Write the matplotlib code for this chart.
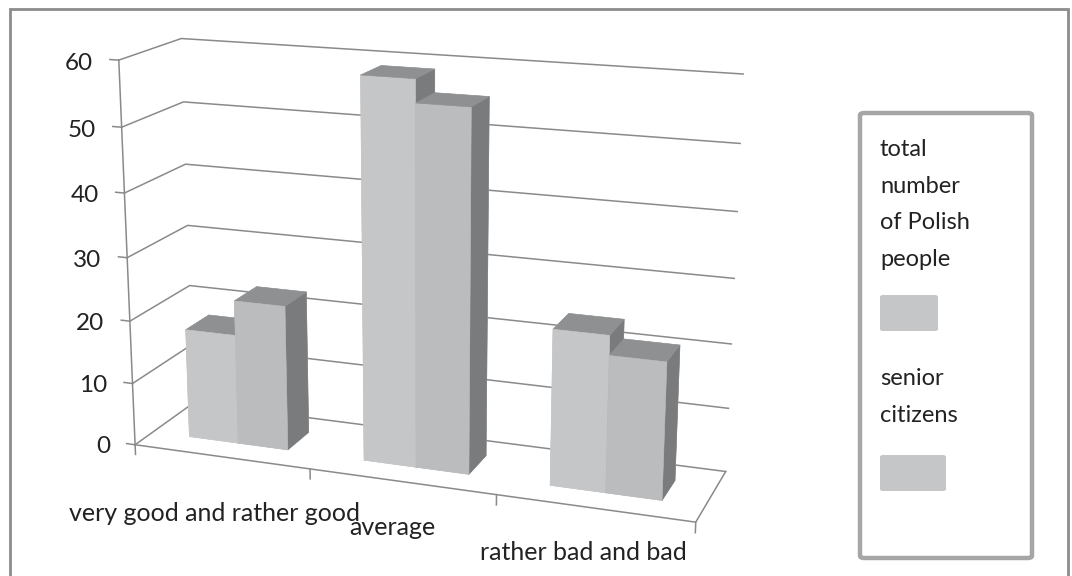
import matplotlib
matplotlib.use("Agg")
import matplotlib.pyplot as plt
from matplotlib.patches import Rectangle, FancyBboxPatch
from mpl_toolkits.mplot3d import proj3d

# survey shares (%) per self-rated category
categories = ["very good and rather good", "average", "rather bad and bad"]
series_labels = ["total\nnumber\nof Polish\npeople", "senior\ncitizens"]
total_pct = [17.5, 59, 24]
senior_pct = [23, 55.5, 21]
value_ticks = [0, 10, 20, 30, 40, 50, 60]

front_colors = ["#C5C6C8", "#BBBCBE"]
top_color = "#8F9092"
side_color = "#7A7B7D"
grid_color = "#8A8A8A"
text_color = "#222222"

plt.rcParams["font.family"] = ["Lato", "DejaVu Sans"]

fig = plt.figure(figsize=(10.72, 5.76), dpi=100)
ax = fig.add_axes([0.0398, -0.129, 0.695, 1.293], projection="3d",
                  computed_zorder=False)
ax.set_axis_off()
ax.patch.set_alpha(0)
ax.view_init(elev=16, azim=-70)
ax.set_proj_type("persp", focal_length=0.5)
ax.set_box_aspect((5, 1.15, 3.41), zoom=0.957)

ncat = len(categories)
zmax = value_ticks[-1]
ax.set_xlim(0, ncat)
ax.set_ylim(0, 1)
ax.set_zlim(0, zmax)


def label_at(x, y, z, s, **kw):
    """Put a flat 2D label at the projected position of a 3D point."""
    px, py, _ = proj3d.proj_transform(x, y, z, ax.get_proj())
    return ax.text2D(px, py, s, transform=ax.transData, color=text_color, **kw)


# walls: gridlines run along the left wall then across the back wall
for v in value_ticks:
    ax.plot([0, 0, ncat], [0, 1, 1], [v, v, v], color=grid_color, lw=1.1, zorder=1)
    ax.plot([-0.05, 0], [0, 0], [v, v], color=grid_color, lw=1.1, zorder=1)
    label_at(-0.15, 0, v - 0.8, f"{v}", ha="right", va="center", fontsize=17.5)

# value axis, category axis and floor edge
ax.plot([0, 0], [0, 0], [0, zmax], color=grid_color, lw=1.1, zorder=1)
ax.plot([0, ncat, ncat], [0, 0, 1], [0, 0, 0], color=grid_color, lw=1.1, zorder=1)
for i in range(ncat + 1):
    ax.plot([i, i], [0, 0], [0, -1.6], color=grid_color, lw=1.1, zorder=1)

# clustered columns: gap width 150 %, columns centred in depth
bar_w = 1 / 3.5
bar_d = 0.4
y0 = (1 - bar_d) / 2
xs, heights, face_colors = [], [], []
for s, vals in enumerate([total_pct, senior_pct]):
    for i, v in enumerate(vals):
        xs.append(i + 0.75 * bar_w + s * bar_w)
        heights.append(v)
        fc = front_colors[s]
        # faces: bottom, top, front, back, left, right
        face_colors += [fc, top_color, fc, fc, fc, side_color]
n = len(xs)
ax.bar3d(xs, [y0] * n, [0] * n, bar_w, bar_d, heights, color=face_colors,
         shade=False, edgecolor=face_colors, linewidth=0.4, zorder=2)

label_drop = [-9.5, -7.5, -7.0]
for i, (cat, dz) in enumerate(zip(categories, label_drop)):
    label_at(i + 0.45, 0, dz, cat, ha="center", va="center", fontsize=18)

# legend box with text above each swatch
fig.patches.append(FancyBboxPatch((860 / 1072, 18 / 576), 172 / 1072, 445 / 576,
                                  boxstyle="round,pad=0,rounding_size=0.004",
                                  transform=fig.transFigure, fill=False,
                                  edgecolor="#A6A6A6", lw=3.2))
legend_text_y = [139, 368]
swatch_y = [295, 455]
swatch_w = [58, 66]
for s, lab in enumerate(series_labels):
    fig.text(880 / 1072, 1 - legend_text_y[s] / 576, lab, ha="left", va="top",
             fontsize=17, linespacing=1.92, color=text_color)
    fig.patches.append(FancyBboxPatch((880 / 1072, 1 - (swatch_y[s] + 36) / 576),
                                      swatch_w[s] / 1072, 36 / 576,
                                      boxstyle="round,pad=0,rounding_size=0.003",
                                      transform=fig.transFigure,
                                      facecolor=front_colors[0], edgecolor="none"))

# chart frame
fig.patches.append(Rectangle((10 / 1072, -0.05), 1058 / 1072, 1.05 - 9 / 576,
                             transform=fig.transFigure, fill=False,
                             edgecolor="#8C8C8C", lw=2))

fig.savefig("out.png", dpi=100)
